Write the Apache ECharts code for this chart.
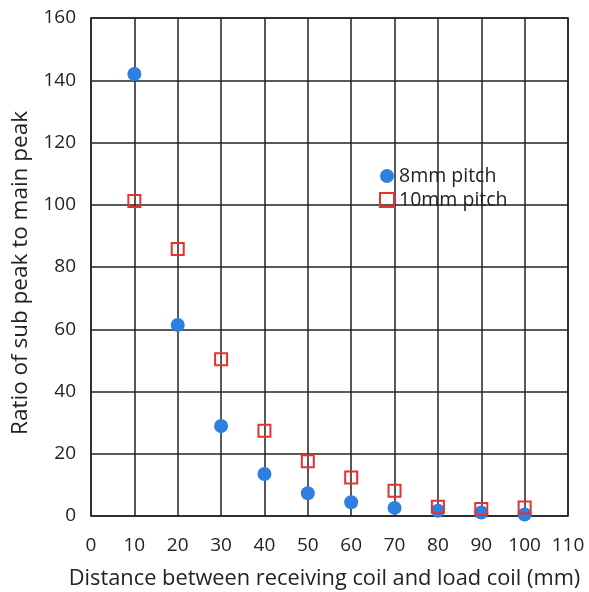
<!DOCTYPE html>
<html>
<head>
<meta charset="utf-8">
<script src="https://cdn.jsdelivr.net/npm/echarts@6/dist/echarts.min.js"></script>
<style>
  html, body { margin: 0; padding: 0; background: #fff; }
  #chart { width: 589px; height: 592px; }
</style>
</head>
<body>
<div id="chart"></div>
<script>
// Distance between receiving coil and load coil (mm)
const distances = [10, 20, 30, 40, 50, 60, 70, 80, 90, 100];
// Ratio of sub peak to main peak for each coil pitch
const pitch8mm = [142, 61.4, 28.9, 13.5, 7.3, 4.4, 2.6, 1.7, 1.1, 0.5];
const pitch10mm = [101.2, 85.8, 50.4, 27.4, 17.6, 12.4, 8.1, 3.0, 2.25, 2.7];
const seriesNames = ['8mm pitch', '10mm pitch'];

const FONT = 'Open Sans';
const TEXT = '#222';
const chart = echarts.init(document.getElementById('chart'), null, { renderer: 'canvas' });

const pairs = (ys) => distances.map((x, i) => [x, ys[i]]);

chart.setOption({
  animation: false,
  backgroundColor: '#fff',
  grid: {
    left: 91, right: 21, top: 18, bottom: 76,
    outerBoundsMode: 'none',
    containLabel: false,
    show: true, borderColor: '#222', borderWidth: 1.5
  },
  legend: {
    orient: 'vertical',
    left: 379,
    top: 166,
    padding: 0,
    itemGap: 4,
    itemWidth: 14,
    itemHeight: 14,
    textStyle: { fontFamily: FONT, fontSize: 19.5, color: TEXT },
    data: [
      { name: seriesNames[0], icon: 'circle' },
      { name: seriesNames[1], icon: 'rect' }
    ]
  },
  xAxis: {
    type: 'value',
    min: 0, max: 110, interval: 10,
    name: 'Distance between receiving coil and load coil (mm)',
    nameLocation: 'middle',
    nameGap: 52,
    nameTextStyle: { fontFamily: FONT, fontSize: 21.8, color: TEXT, padding: [0, 10, 0, 0] },
    axisLine: { show: false },
    axisTick: { show: false },
    axisLabel: { fontFamily: FONT, fontSize: 19, color: TEXT, margin: 20 },
    splitLine: { show: true, lineStyle: { color: '#222', width: 1.5 } }
  },
  yAxis: {
    type: 'value',
    min: 0, max: 160, interval: 20,
    name: 'Ratio of sub peak to main peak',
    nameLocation: 'middle',
    nameGap: 54,
    nameRotate: 90,
    nameTextStyle: { fontFamily: FONT, fontSize: 22.5, color: TEXT, padding: [0, 12, 0, 0] },
    axisLine: { show: false },
    axisTick: { show: false },
    axisLabel: { fontFamily: FONT, fontSize: 19, color: TEXT, margin: 15 },
    splitLine: { show: true, lineStyle: { color: '#222', width: 1.5 } }
  },
  series: [
    {
      name: seriesNames[0],
      type: 'scatter',
      data: pairs(pitch8mm),
      symbol: 'circle',
      symbolSize: 14,
      itemStyle: { color: '#2f7fe0', opacity: 1 }
    },
    {
      name: seriesNames[1],
      type: 'scatter',
      data: pairs(pitch10mm),
      symbol: 'rect',
      symbolSize: 12,
      itemStyle: { color: 'rgba(255,255,255,0)', borderColor: '#e8302f', borderWidth: 2, opacity: 1 }
    }
  ]
});
</script>
</body>
</html>
